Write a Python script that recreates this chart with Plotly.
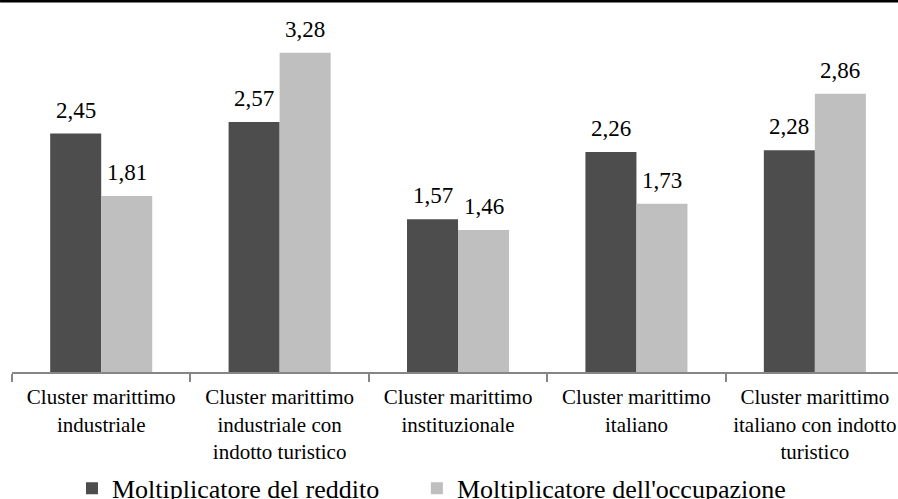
import plotly.graph_objects as go

categories = [
    "Cluster marittimo<br>industriale",
    "Cluster marittimo<br>industriale con<br>indotto turistico",
    "Cluster marittimo<br>instituzionale",
    "Cluster marittimo<br>italiano",
    "Cluster marittimo<br>italiano con indotto<br>turistico",
]
reddito = [2.45, 2.57, 1.57, 2.26, 2.28]
occupazione = [1.81, 3.28, 1.46, 1.73, 2.86]
series_names = ["Moltiplicatore del reddito", "Moltiplicatore dell'occupazione"]
colors = ["#4d4d4d", "#bfbfbf"]

FONT = "Times New Roman"

fig = go.Figure()
for name, vals, col, leg in zip(series_names, [reddito, occupazione], colors,
                                ["legend", "legend2"]):
    fig.add_trace(go.Bar(x=categories, y=vals, name=name, marker_color=col,
                         marker_line_width=0, legend=leg))

# value labels above each bar
for vals, shift in [(reddito, -25.5), (occupazione, 25.5)]:
    for cat, v in zip(categories, vals):
        fig.add_annotation(x=cat, y=v, text=f"{v:.2f}".replace(".", ","),
                           showarrow=False, yanchor="bottom", xshift=shift,
                           yshift=9, font=dict(family=FONT, size=23, color="black"))

# thick rule across the top
fig.add_shape(type="line", xref="paper", yref="paper",
              x0=-0.0135, x1=1, y0=1.027, y1=1.027,
              line=dict(color="black", width=2.5))

legend_style = dict(orientation="h", xanchor="left", y=-0.257, yanchor="top",
                    font=dict(family=FONT, size=26), itemwidth=30,
                    bgcolor="rgba(0,0,0,0)")

fig.update_layout(
    width=898, height=499,
    margin=dict(l=12, r=0, t=11, b=127, autoexpand=False),
    paper_bgcolor="white", plot_bgcolor="white",
    barmode="group", bargap=0.428, bargroupgap=0,
    font=dict(family=FONT, color="black"),
    showlegend=True,
    legend=dict(x=0.0677, **legend_style),
    legend2=dict(x=0.457, **legend_style),
)
fig.update_xaxes(range=[-0.5, 4.466], showline=True, linecolor="#868686",
                 linewidth=2, ticks="outside", tickson="boundaries",
                 ticklen=8, tickcolor="#868686", tickwidth=2,
                 tickfont=dict(family=FONT, size=21), tickangle=0,
                 ticklabelstandoff=5)
fig.update_yaxes(range=[0, 3.71], showgrid=False, showticklabels=False,
                 zeroline=False, showline=False)

fig.write_html("out.html", config={"displayModeBar": False},
               post_script="document.body.style.margin='0';")
